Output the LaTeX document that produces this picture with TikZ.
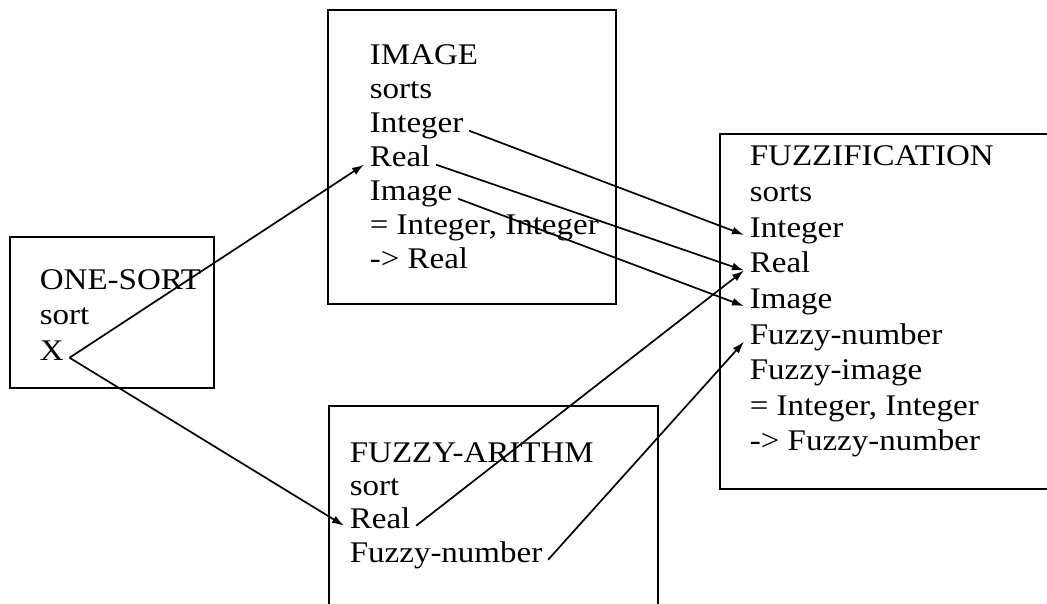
\documentclass[tikz,border=0pt]{standalone}
\usepackage{fontspec}
\setmainfont{Liberation Serif}[FakeStretch=1.1]
\usetikzlibrary{arrows.meta}

\begin{document}
\begin{tikzpicture}[x=1pt, y=-1pt, line width=1.7pt, font=\fontsize{30}{34}\selectfont,
            box/.style={draw, rectangle, inner sep=0pt, anchor=north west},
            item/.style={anchor=base west, inner xsep=5pt, inner ysep=1pt},
            >={Latex[length=12pt,width=8pt]}]
            \useasboundingbox (0,0) rectangle (1047,604);

            % caixas
            \node[box, minimum width=204, minimum height=151] (OS) at (9,236) {};
            \node[box, minimum width=288, minimum height=294] (IM) at (327,9) {};
            \node[box, minimum width=329, minimum height=215] (FA) at (328,405) {};
            \node[box, minimum width=345, minimum height=355] (FZ) at (719,133) {};

            \node[item] (OS1) at (34,290) {ONE-SORT};
            \node[item] (OS2) at (34,324) {sort};
            \node[item] (X) at (34,360) {X};

            \node[item] (IM1) at (364,65) {IMAGE};
            \node[item] (IM2) at (364,99) {sorts};
            \node[item] (IMi) at (364,133) {Integer};
            \node[item] (IMr) at (364,167) {Real};
            \node[item] (IMm) at (364,201) {Image};
            \node[item] (IM3) at (364,235) {= Integer, Integer};
            \node[item] (IM4) at (364,269) {-> Real};

            \node[item] (FA1) at (344,462) {FUZZY-ARITHM};
            \node[item] (FA2) at (344,495) {sort};
            \node[item] (FAr) at (344,528) {Real};
            \node[item] (FAf) at (344,562) {Fuzzy-number};

            \node[item] (FZ1) at (744,166) {FUZZIFICATION};
            \node[item] (FZ2) at (744,201.6) {sorts};
            \node[item] (FZi) at (744,237.2) {Integer};
            \node[item] (FZr) at (744,272.8) {Real};
            \node[item] (FZm) at (744,308.4) {Image};
            \node[item] (FZf) at (744,344) {Fuzzy-number};
            \node[item] (FZ3) at (744,379.6) {Fuzzy-image};
            \node[item] (FZ4) at (744,415.2) {= Integer, Integer};
            \node[item] (FZ5) at (744,450.8) {-> Fuzzy-number};

            \draw[->] (X.mid east) -- (IMr.mid west);
            \draw[->] (X.mid east) -- (FAr.mid west);
            \draw[->] (IMi.mid east) -- (FZi.mid west);
            \draw[->] (IMr.mid east) -- (FZr.mid west);
            \draw[->] (IMm.mid east) -- (FZm.mid west);
            \draw[->] (FAr.mid east) -- (FZr.mid west);
            \draw[->] (FAf.mid east) -- (FZf.mid west);
        \end{tikzpicture}
\end{document}
